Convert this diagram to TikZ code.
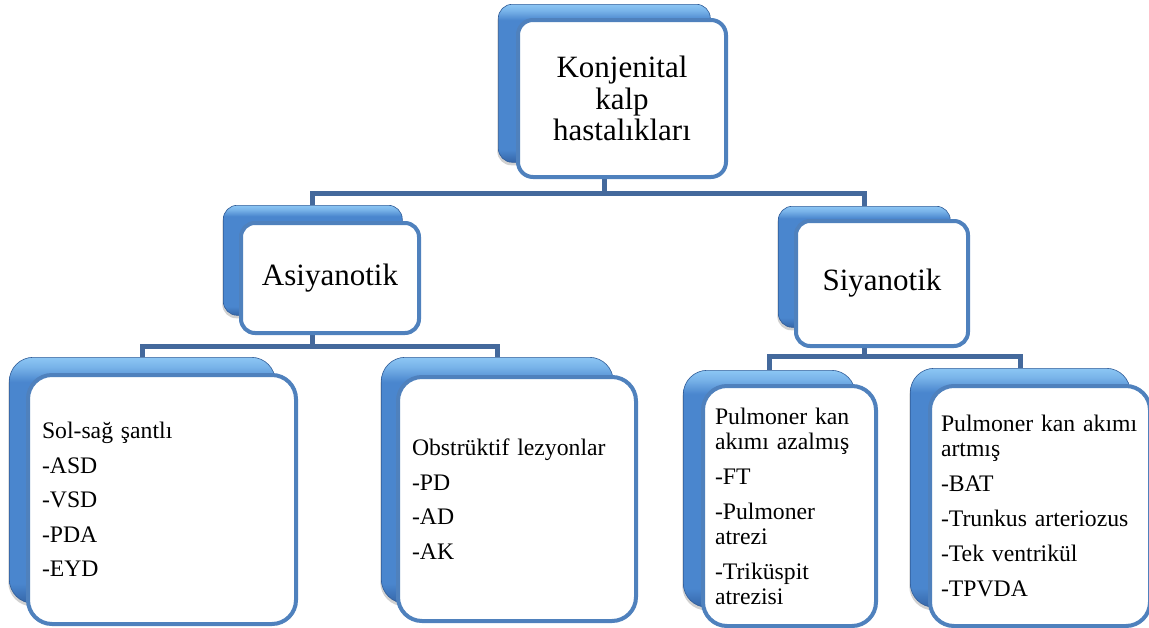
\documentclass[tikz,border=0pt]{standalone}
\usepackage{fontspec}
\setmainfont{Liberation Serif}
\usetikzlibrary{backgrounds,shadows}
\definecolor{boxblue}{HTML}{4F81BD}
\definecolor{linkblue}{HTML}{44699C}
\definecolor{bevtop}{HTML}{8CC6F4}
\definecolor{bevmid}{HTML}{4A86CE}
\definecolor{bevbot}{HTML}{3566A8}
\pgfdeclareverticalshading{bevelshade}{100bp}{color(0bp)=(bevbot); color(25bp)=(bevbot); color(29bp)=(bevmid); color(70bp)=(bevmid); color(73bp)=(bevtop!70!bevmid); color(75bp)=(bevtop); color(100bp)=(bevtop)}
\tikzset{
  backbox/.style={rectangle, rounded corners=#1, inner sep=0pt, anchor=north west,
    shading=bevelshade, draw=bevbot!90!black, line width=0.6pt,
    drop shadow={shadow xshift=-1pt, shadow yshift=-3pt, opacity=0.3, fill=black!60}},
  frontbox/.style={rectangle, rounded corners=#1, anchor=north west, fill=white,
    draw=boxblue, line width=4pt, inner sep=0pt},
  bigtext/.style={align=center, font=\fontsize{31}{31.5}\selectfont},
  listtext/.style={align=left, inner xsep=14pt, text width=#1,
    font=\fontsize{23.7}{25}\selectfont},
  link/.style={draw=linkblue, line width=5pt}
}
\begin{document}
\begin{tikzpicture}[x=1pt,y=-1pt]
\useasboundingbox (0,0) rectangle (1149,627);
% top level
\node[backbox=14pt, minimum width=212pt, minimum height=158pt] (b0) at (498,4) {};
\node[frontbox=15pt, minimum width=208pt, minimum height=157pt, bigtext, text depth=0pt] (f0) at (516,18) {Konjenital\\kalp\\hastalıkları};
% level 2
\node[backbox=14pt, minimum width=179pt, minimum height=110pt] (b1) at (223,205) {};
\node[frontbox=14pt, minimum width=178pt, minimum height=110pt, bigtext] (f1) at (239,221) {Asiyanotik};
\node[backbox=14pt, minimum width=172pt, minimum height=121pt] (b2) at (778,206) {};
\node[frontbox=14pt, minimum width=172pt, minimum height=125pt, bigtext] (f2) at (794,219) {Siyanotik};
% level 3
\node[backbox=24pt, minimum width=266pt, minimum height=246pt] (b3) at (9,357) {};
\node[frontbox=24pt, minimum height=249pt, listtext=240pt] (f3) at (26,373)
  {Sol-sağ şantlı\\[9.5pt]-ASD\\[9.5pt]-VSD\\[9.5pt]-PDA\\[9.5pt]-EYD};
\node[backbox=24pt, minimum width=232pt, minimum height=246pt] (b4) at (381,357) {};
\node[frontbox=24pt, minimum height=244pt, listtext=210pt, yshift=-2pt] (f4) at (396,373)
  {Obstrüktif lezyonlar\\[9.5pt]-PD\\[9.5pt]-AD\\[9.5pt]-AK};
\node[backbox=24pt, minimum width=172pt, minimum height=237pt] (b5) at (683,370) {};
\node[frontbox=24pt, minimum height=240pt, listtext=149pt, inner xsep=12pt] (f5) at (701,384)
  {Pulmoner kan\\akımı azalmış\\[10pt]-FT\\[10pt]-Pulmoner\\atrezi\\[10pt]-Triküspit\\atrezisi};
\node[backbox=24pt, minimum width=220pt, minimum height=239pt] (b6) at (910,368) {};
\node[frontbox=24pt, minimum height=240pt, listtext=198pt, inner xsep=11pt] (f6) at (928,384)
  {Pulmoner kan akımı\\artmış\\[10pt]-BAT\\[10pt]-Trunkus arteriozus\\[10pt]-Tek ventrikül\\[10pt]-TPVDA};
% connectors
\begin{pgfonlayer}{background}
\draw[link] (b0.south |- f0.south) -- ++(0,14) -| (b1.north);
\draw[link] (b0.south |- f0.south) -- ++(0,14) -| (b2.north);
\draw[link] (b1.south |- f1.south) -- ++(0,11) -| (b3.north);
\draw[link] (b1.south |- f1.south) -- ++(0,11) -| (b4.north);
\draw[link] (b2.south |- f2.south) -- ++(0,8) -| (b5.north);
\draw[link] (b2.south |- f2.south) -- ++(0,8) -| (b6.north);
\end{pgfonlayer}
\end{tikzpicture}
\end{document}
